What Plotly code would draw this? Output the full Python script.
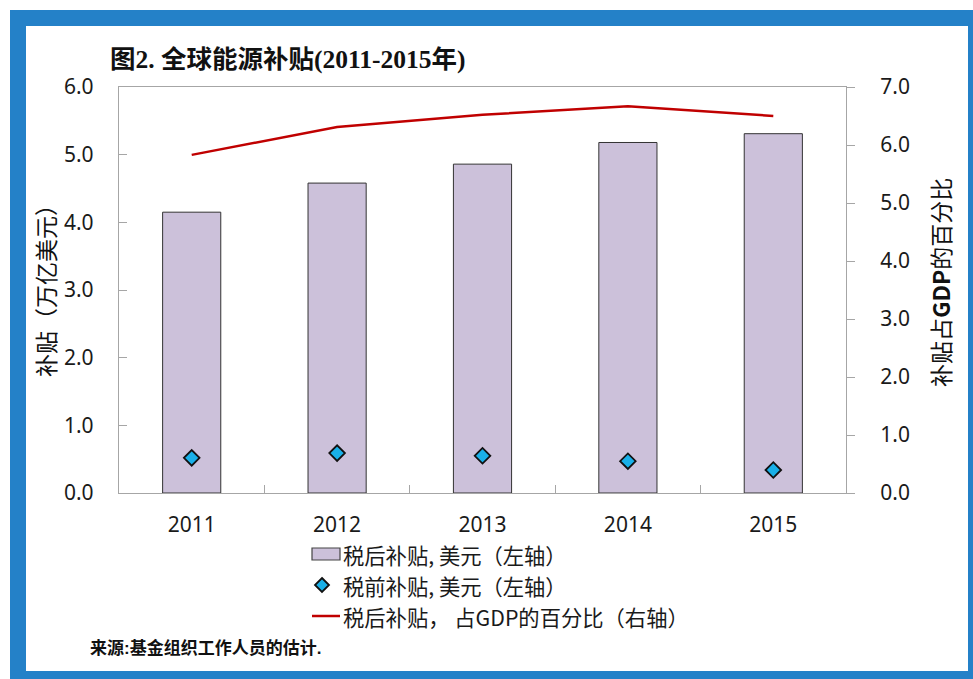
import plotly.graph_objects as go

years = ["2011", "2012", "2013", "2014", "2015"]
post_tax = [4.15, 4.58, 4.86, 5.18, 5.31]
pre_tax = [0.52, 0.59, 0.55, 0.47, 0.34]
pct_gdp = [5.83, 6.31, 6.52, 6.67, 6.50]

name_post = "税后补贴, 美元（左轴）"
name_pre = "税前补贴, 美元（左轴）"
name_pct = "税后补贴， 占GDP的百分比（右轴）"

W, H = 973, 679
L, R, T, B = 119, 846, 87, 493

BAR_COLOR = "#CCC1DA"
DIA_COLOR = "#19B0E8"
LINE_COLOR = "#C00000"


def px(x):
    return (x - L) / (R - L)


def py(y):
    return (B - y) / (B - T)


fig = go.Figure()
fig.add_trace(go.Bar(
    x=years, y=post_tax, name=name_post, width=0.4,
    marker=dict(color=BAR_COLOR, line=dict(color="#333333", width=1)),
))
fig.add_trace(go.Scatter(
    x=years, y=pre_tax, name=name_pre, mode="markers",
    marker=dict(symbol="diamond", size=12, color=DIA_COLOR,
                line=dict(color="#111111", width=1.8)),
))
fig.add_trace(go.Scatter(
    x=years, y=pct_gdp, name=name_pct, mode="lines",
    line=dict(color=LINE_COLOR, width=2.5), yaxis="y2",
))

tick_font = dict(family="Noto Sans, DejaVu Sans, sans-serif", size=21, color="#1a1a1a")
cjk = "Noto Sans CJK SC, Noto Sans, sans-serif"

fig.update_layout(
    width=W, height=H,
    margin=dict(l=L, r=W - R, t=T, b=H - B, pad=0),
    paper_bgcolor="white", plot_bgcolor="rgba(0,0,0,0)",
    showlegend=False,
    xaxis=dict(type="category", showline=True, linecolor="#A6A6A6", linewidth=1.3,
               mirror=True, ticks="inside", tickson="boundaries", ticklen=8,
               tickcolor="#A6A6A6", tickfont=tick_font, ticklabelstandoff=13,
               showgrid=False, zeroline=False),
    yaxis=dict(range=[0, 6], dtick=1, tickformat=".1f", showline=True,
               linecolor="#A6A6A6", linewidth=1.3, ticks="inside", ticklen=8,
               tickcolor="#A6A6A6", tickfont=tick_font, ticklabelstandoff=20,
               showgrid=False, zeroline=False),
    yaxis2=dict(range=[0, 7], dtick=1, tickformat=".1f", overlaying="y", side="right",
                showline=True, linecolor="#A6A6A6", linewidth=1.3, ticks="outside",
                ticklen=8, tickcolor="#A6A6A6", tickfont=tick_font,
                ticklabelstandoff=21, showgrid=False, zeroline=False),
)

# frame
fig.add_shape(type="rect", xref="paper", yref="paper", layer="below",
              x0=px(10), x1=px(973), y0=py(679), y1=py(10),
              fillcolor="#2481C8", line=dict(width=0))
fig.add_shape(type="rect", xref="paper", yref="paper", layer="below",
              x0=px(26), x1=px(968), y0=py(671), y1=py(26),
              fillcolor="white", line=dict(width=0))

# legend (drawn manually to match the reference's symbol shapes)
legend_font = dict(family=cjk, size=21.3, color="#1a1a1a")
rows = [554, 585, 616]
fig.add_shape(type="rect", xref="paper", yref="paper",
              x0=px(312), x1=px(340), y0=py(rows[0] + 6), y1=py(rows[0] - 6),
              fillcolor=BAR_COLOR, line=dict(color="#444444", width=1.2))
fig.add_shape(type="path", xref="paper", yref="paper",
              xsizemode="pixel", ysizemode="pixel",
              xanchor=px(322), yanchor=py(rows[1]),
              path="M 0 7 L 7 0 L 0 -7 L -7 0 Z",
              fillcolor=DIA_COLOR, line=dict(color="#111111", width=1.8))
fig.add_shape(type="line", xref="paper", yref="paper",
              x0=px(312), x1=px(340), y0=py(rows[2]), y1=py(rows[2]),
              line=dict(color=LINE_COLOR, width=2.5))
for r, name in zip(rows, [name_post, name_pre, name_pct]):
    fig.add_annotation(xref="paper", yref="paper", x=px(342), y=py(r),
                       xanchor="left", yanchor="middle", showarrow=False,
                       borderpad=0, text=name, font=legend_font)

fig.add_annotation(xref="paper", yref="paper", x=px(108), y=py(60),
                   xanchor="left", yanchor="middle", showarrow=False,
                   text="<b>图2. 全球能源补贴(2011-2015年)</b>",
                   font=dict(family="Liberation Serif, Noto Sans CJK SC, serif", size=25.5, color="#111111"))
fig.add_annotation(xref="paper", yref="paper", x=px(45), y=py(285),
                   xanchor="center", yanchor="middle", showarrow=False, textangle=-90,
                   text="补贴（万亿美元）", font=dict(family=cjk, size=23, color="#111111"))
fig.add_annotation(xref="paper", yref="paper", x=px(940), y=py(283),
                   xanchor="center", yanchor="middle", showarrow=False, textangle=-90,
                   text="补贴占<b>GDP</b>的百分比", font=dict(family=cjk, size=23, color="#111111"))
fig.add_annotation(xref="paper", yref="paper", x=px(88), y=py(648),
                   xanchor="left", yanchor="middle", showarrow=False,
                   text="<b>来源:基金组织工作人员的估计.</b>",
                   font=dict(family="Liberation Sans, Noto Sans CJK SC, sans-serif", size=17, color="#111111"))

fig.write_html("out.html", config={"displayModeBar": False},
               post_script="document.body.style.margin='0px';document.body.style.overflow='hidden';")
